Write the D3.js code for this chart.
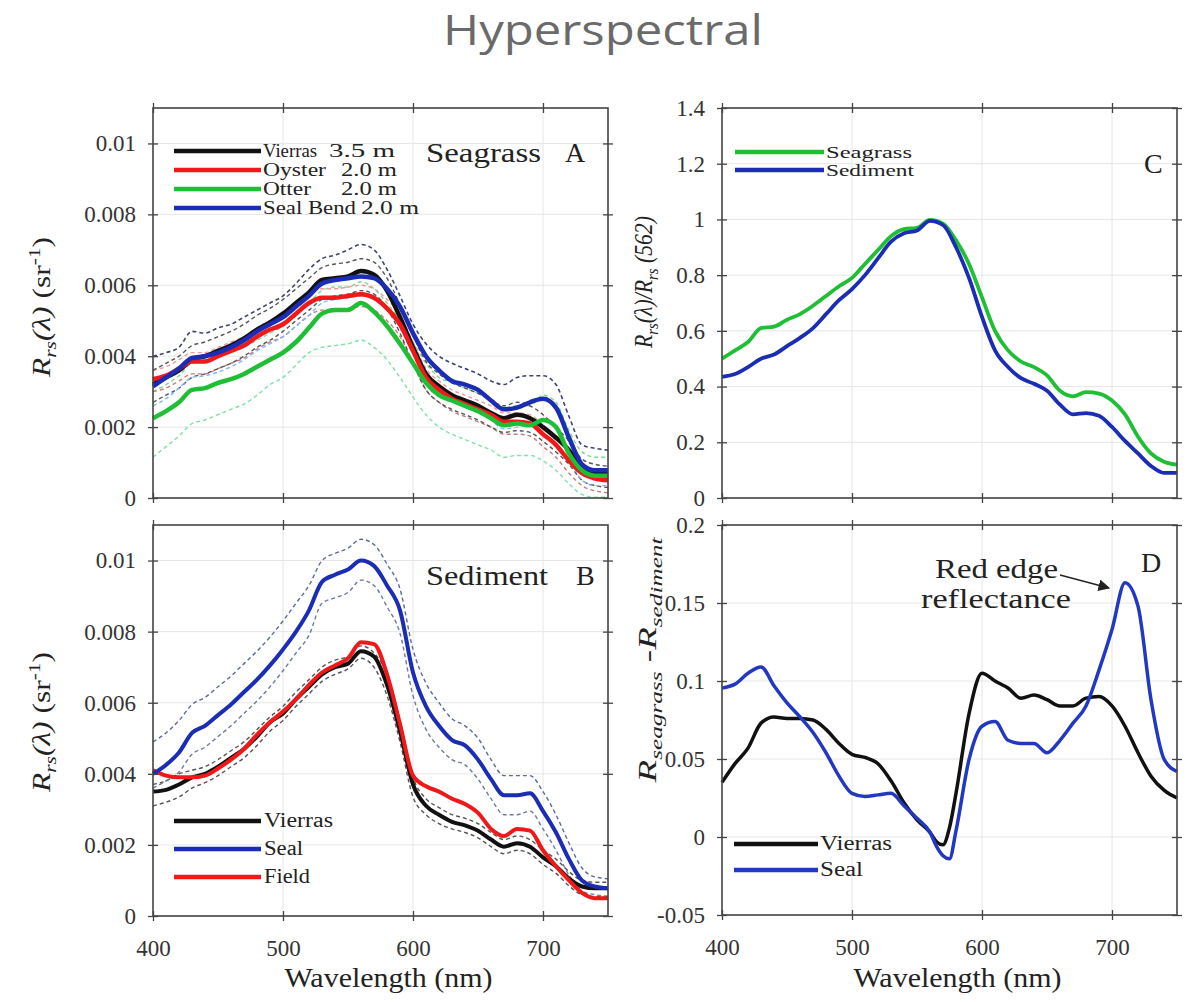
<!DOCTYPE html>
<html>
<head>
<meta charset="utf-8">
<script src="https://cdn.jsdelivr.net/npm/d3@7/dist/d3.min.js"></script>
<style>
  body { margin: 0; background: #fff; }
  svg { display: block; }
  .serif { font-family: "Liberation Serif", "Times New Roman", Times, "Nimbus Roman", serif; }
</style>
</head>
<body>
<svg id="chart" width="1199" height="1002"></svg>
<script>
// wavelength grid (nm)
const wl = [400,410,420,430,440,450,460,470,480,490,500,510,520,530,540,550,560,570,
            580,590,600,610,620,630,640,650,660,670,680,690,700,710,720,730,740,750];
// finer grid around the dip for panel D
const wlD = [400,410,420,430,440,450,460,470,480,490,500,510,520,530,540,550,560,565,570,575,
             580,590,600,610,620,630,640,650,660,670,680,690,700,710,720,730,740,750];

// Panel A - seagrass Rrs, units of 1e-3 sr^-1
const aVierras = [3.2,3.4,3.6,3.9,4.0,4.15,4.3,4.5,4.75,4.95,5.2,5.5,5.8,6.15,6.2,6.25,6.4,6.3,5.85,5.1,4.25,3.5,3.15,2.9,2.75,2.6,2.4,2.25,2.35,2.25,2.0,1.7,1.35,0.87,0.73,0.7];
const aOyster  = [3.35,3.45,3.65,3.85,3.85,4.0,4.15,4.3,4.55,4.75,4.9,5.2,5.5,5.65,5.65,5.7,5.75,5.65,5.35,4.9,4.15,3.4,3.05,2.8,2.65,2.5,2.35,2.15,2.15,2.1,1.8,1.5,1.05,0.7,0.55,0.5];
const aOtter   = [2.25,2.45,2.7,3.05,3.1,3.25,3.35,3.5,3.7,3.9,4.1,4.4,4.8,5.2,5.3,5.3,5.5,5.25,4.85,4.35,3.8,3.25,2.9,2.75,2.6,2.45,2.25,2.05,2.1,2.05,2.2,2.0,1.25,0.78,0.63,0.63];
const aSeal    = [3.15,3.4,3.65,3.95,4.0,4.1,4.25,4.45,4.7,4.9,5.1,5.4,5.7,6.05,6.15,6.2,6.25,6.2,5.9,5.4,4.65,4.0,3.6,3.3,3.2,3.05,2.75,2.5,2.55,2.7,2.8,2.55,1.7,0.95,0.78,0.78];
// +/- one std dev (dashed)
const aVierrasHi = [3.6,3.8,4.0,4.3,4.4,4.55,4.7,4.9,5.15,5.35,5.6,5.9,6.2,6.5,6.6,6.65,6.75,6.65,6.2,5.45,4.6,3.85,3.5,3.25,3.1,2.95,2.75,2.6,2.7,2.6,2.35,2.0,1.6,1.1,0.95,0.9];
const aVierrasLo = [2.7,2.9,3.1,3.4,3.5,3.65,3.8,4.0,4.25,4.45,4.7,5.0,5.3,5.6,5.7,5.75,5.85,5.75,5.35,4.65,3.8,3.05,2.7,2.5,2.35,2.2,2.0,1.85,1.9,1.85,1.6,1.3,0.95,0.5,0.35,0.3];
const aOysterHi  = [3.6,3.7,3.9,4.1,4.1,4.25,4.4,4.55,4.8,5.0,5.15,5.45,5.75,5.9,5.9,5.95,6.0,5.9,5.6,5.15,4.4,3.65,3.3,3.05,2.9,2.75,2.6,2.4,2.4,2.35,2.05,1.75,1.3,0.95,0.8,0.75];
const aOysterLo  = [3.0,3.1,3.3,3.5,3.5,3.65,3.8,3.95,4.2,4.4,4.55,4.85,5.15,5.3,5.3,5.35,5.4,5.3,5.0,4.55,3.8,3.05,2.7,2.45,2.3,2.15,2.0,1.8,1.8,1.75,1.45,1.15,0.7,0.35,0.2,0.15];
const aOtterHi   = [3.0,3.2,3.45,3.8,3.85,4.0,4.1,4.25,4.45,4.65,4.85,5.15,5.5,5.85,5.95,5.95,6.1,5.9,5.5,5.0,4.4,3.8,3.4,3.25,3.1,2.95,2.75,2.55,2.6,2.6,2.9,2.7,1.9,1.3,1.15,1.15];
const aOtterLo   = [1.15,1.45,1.75,2.1,2.2,2.35,2.5,2.65,2.9,3.2,3.4,3.75,4.1,4.25,4.3,4.35,4.45,4.25,3.9,3.4,2.85,2.35,2.0,1.8,1.65,1.5,1.35,1.15,1.2,1.2,1.05,0.78,0.4,0.1,0.02,0.02];
const aSealHi    = [4.0,4.1,4.25,4.7,4.65,4.8,4.9,5.1,5.3,5.5,5.7,6.05,6.45,6.75,6.85,7.0,7.15,7.0,6.45,5.7,4.9,4.35,4.0,3.8,3.65,3.5,3.3,3.2,3.4,3.45,3.45,3.2,2.3,1.5,1.4,1.35];
const aSealLo    = [2.6,2.8,3.1,3.4,3.45,3.55,3.7,3.9,4.15,4.35,4.55,4.85,5.15,5.5,5.6,5.65,5.7,5.6,5.3,4.8,4.05,3.4,3.0,2.75,2.65,2.5,2.2,1.95,2.0,2.1,2.2,2.0,1.2,0.5,0.35,0.35];

// Panel B - sediment Rrs, units of 1e-3 sr^-1
const bVierras = [3.5,3.55,3.7,3.9,4.0,4.2,4.45,4.7,5.05,5.45,5.7,6.1,6.45,6.8,7.0,7.1,7.45,7.3,6.5,5.2,3.7,3.1,2.85,2.65,2.55,2.4,2.15,1.95,2.05,1.95,1.65,1.4,1.05,0.83,0.78,0.78];
const bSeal    = [4.0,4.25,4.6,5.15,5.35,5.65,5.95,6.3,6.65,7.05,7.5,8.0,8.6,9.4,9.6,9.75,10.0,9.85,9.3,8.6,6.85,5.9,5.35,4.95,4.8,4.4,3.85,3.4,3.4,3.45,2.95,2.35,1.6,1.0,0.83,0.78];
const bField   = [4.1,3.95,3.9,3.9,3.95,4.15,4.4,4.7,5.1,5.45,5.75,6.1,6.5,6.85,7.05,7.25,7.7,7.65,6.8,5.4,3.95,3.65,3.5,3.3,3.15,2.9,2.45,2.25,2.45,2.4,1.85,1.4,1.0,0.65,0.5,0.5];
const bSealHi    = [4.9,5.15,5.5,5.95,6.15,6.45,6.75,7.1,7.45,7.85,8.3,8.8,9.3,10.0,10.2,10.35,10.6,10.45,9.9,9.2,7.5,6.55,6.0,5.55,5.35,5.0,4.4,3.95,3.95,3.95,3.5,2.85,2.05,1.35,1.1,1.05];
const bSealLo    = [3.6,3.8,4.05,4.55,4.75,5.05,5.35,5.7,6.05,6.45,6.9,7.4,7.9,8.8,8.95,9.1,9.45,9.3,8.7,7.95,6.2,5.25,4.75,4.4,4.25,3.85,3.3,2.85,2.85,2.95,2.45,1.85,1.15,0.7,0.6,0.55];
const bVierrasHi = [3.7,3.8,4.0,4.1,4.2,4.4,4.65,4.9,5.25,5.6,5.9,6.3,6.65,7.0,7.2,7.3,7.6,7.4,6.8,5.5,3.9,3.3,3.05,2.85,2.75,2.6,2.35,2.15,2.25,2.15,1.85,1.6,1.25,1.0,0.95,0.95];
const bVierrasLo = [3.1,3.2,3.35,3.6,3.75,3.95,4.2,4.45,4.8,5.2,5.5,5.9,6.25,6.6,6.8,6.95,7.25,7.0,6.2,4.9,3.35,2.85,2.6,2.45,2.35,2.2,1.95,1.75,1.85,1.75,1.45,1.2,0.85,0.6,0.55,0.55];

// Panel C - normalised Rrs(l)/Rrs(562)
const cSeagrass = [0.50,0.53,0.56,0.61,0.615,0.64,0.66,0.69,0.725,0.76,0.79,0.84,0.89,0.94,0.965,0.97,0.998,0.985,0.925,0.84,0.72,0.60,0.53,0.49,0.47,0.44,0.385,0.365,0.38,0.375,0.35,0.30,0.22,0.16,0.13,0.12];
const cSediment = [0.435,0.445,0.47,0.50,0.515,0.545,0.575,0.61,0.66,0.71,0.75,0.80,0.86,0.92,0.95,0.96,0.995,0.98,0.90,0.79,0.65,0.53,0.47,0.43,0.41,0.385,0.335,0.30,0.305,0.295,0.255,0.205,0.16,0.115,0.09,0.09];

// Panel D - seagrass minus sediment (on wlD)
const dVierras = [0.035,0.047,0.057,0.073,0.077,0.076,0.076,0.075,0.069,0.060,0.053,0.051,0.047,0.036,0.022,0.011,0.003,-0.003,-0.005,0.006,
                  0.028,0.079,0.105,0.100,0.0955,0.089,0.091,0.088,0.084,0.084,0.089,0.090,0.084,0.071,0.054,0.039,0.030,0.025];
const dSeal    = [0.0955,0.098,0.105,0.109,0.097,0.086,0.077,0.067,0.054,0.039,0.028,0.026,0.027,0.028,0.020,0.012,0.003,-0.006,-0.012,-0.014,
                  0.004,0.0496,0.071,0.074,0.062,0.060,0.060,0.054,0.062,0.073,0.084,0.107,0.133,0.163,0.148,0.088,0.050,0.042];

const xTicks = [400, 500, 600, 700];
const rrsTicks = [0, 0.002, 0.004, 0.006, 0.008, 0.01];
const normTicks = [0, 0.2, 0.4, 0.6, 0.8, 1, 1.2, 1.4];
const diffTicks = [-0.05, 0, 0.05, 0.1, 0.15, 0.2];

const svg = d3.select("#chart");

function drawPanel(p) {
    const x = d3.scaleLinear().domain([400, 750]).range([p.left, p.right]);
    const y = d3.scaleLinear().domain(p.yDomain).range([p.bottom, p.top]);
    const g = svg.append("g");

    // faint grid
    g.selectAll(".gx").data(xTicks.slice(1)).enter().append("line")
        .attr("x1", d => x(d)).attr("x2", d => x(d))
        .attr("y1", p.top).attr("y2", p.bottom)
        .attr("stroke", "#e6e6e6").attr("stroke-width", 1);
    g.selectAll(".gy").data(p.yTicks).enter().append("line")
        .attr("x1", p.left).attr("x2", p.right)
        .attr("y1", d => y(d)).attr("y2", d => y(d))
        .attr("stroke", "#e6e6e6").attr("stroke-width", 1);

    const line = d3.line()
        .x((d, i) => x(p.wave[i]))
        .y(d => y(d * p.unit))
        .curve(d3.curveMonotoneX);

    p.series.forEach(s => {
        g.append("path")
            .attr("d", line(s.values))
            .attr("fill", "none")
            .attr("stroke", s.color)
            .attr("stroke-width", s.width)
            .attr("stroke-dasharray", s.dash || null)
            .attr("stroke-linejoin", "round");
    });

    // axes, ticks cross the frame
    const left = g.append("g").attr("transform", `translate(${p.left},0)`)
        .call(d3.axisLeft(y).tickValues(p.yTicks).tickSize(5).tickPadding(12).tickFormat(p.fmt));
    left.selectAll(".tick line").attr("x1", 5);
    const right = g.append("g").attr("transform", `translate(${p.right},0)`)
        .call(d3.axisRight(y).tickValues(p.yTicks).tickSize(5).tickFormat(""));
    right.selectAll(".tick line").attr("x1", -5);
    const bottom = g.append("g").attr("transform", `translate(0,${p.bottom})`)
        .call(d3.axisBottom(x).tickValues(xTicks).tickSize(5).tickPadding(19)
            .tickFormat(p.showX ? d3.format("d") : ""));
    bottom.selectAll(".tick line").attr("y1", -5);
    const top = g.append("g").attr("transform", `translate(0,${p.top})`)
        .call(d3.axisTop(x).tickValues(xTicks).tickSize(5).tickFormat(""));
    top.selectAll(".tick line").attr("y1", 5);

    [left, right, bottom, top].forEach(a => {
        a.select(".domain").remove();
        a.attr("font-family", null).attr("font-size", null);
        a.selectAll(".tick line").attr("stroke", "#444").attr("stroke-width", 1.3);
        a.selectAll("text")
            .attr("class", "serif")
            .style("font-size", "23px")
            .attr("fill", "#333");
    });

    g.append("rect")
        .attr("x", p.left).attr("y", p.top)
        .attr("width", p.right - p.left).attr("height", p.bottom - p.top)
        .attr("fill", "none").attr("stroke", "#444").attr("stroke-width", 1.6);

    if (p.showX) {
        g.append("text")
            .attr("class", "serif")
            .attr("x", (p.left + p.right) / 2 + 8).attr("y", 987)
            .attr("text-anchor", "middle")
            .style("font-size", "27px").attr("fill", "#222")
            .attr("textLength", 208).attr("lengthAdjust", "spacingAndGlyphs")
            .text("Wavelength (nm)");
    }
    return g;
}

const rrsFmt = d => d === 0 ? "0" : String(+d.toFixed(3));
const twoFmt = d => d === 0 ? "0" : String(+d.toFixed(2));

const BLACK = "#111", RED = "#f01818", GREEN = "#1fbf35", BLUE = "#1b2db5";

// Panel A
drawPanel({
    left: 153, right: 608, top: 108, bottom: 498,
    yDomain: [0, 0.011], yTicks: rrsTicks, fmt: rrsFmt, unit: 1e-3, wave: wl, showX: false,
    series: [
        { values: aOtterLo,   color: "#7fe3a6", width: 1.4, dash: "4,3" },
        { values: aOtterHi,   color: "#7fd98f", width: 1.4, dash: "4,3" },
        { values: aOysterHi,  color: "#f09a9a", width: 1.4, dash: "4,3" },
        { values: aOysterLo,  color: "#c77b7b", width: 1.4, dash: "4,3" },
        { values: aVierrasHi, color: "#555", width: 1.4, dash: "4,3" },
        { values: aVierrasLo, color: "#555", width: 1.4, dash: "4,3" },
        { values: aSealLo,    color: "#7fb7ff", width: 1.4, dash: "4,3" },
        { values: aSealHi,    color: "#3c4470", width: 1.6, dash: "4,3" },
        { values: aVierras, color: BLACK, width: 4.5 },
        { values: aOyster,  color: RED,   width: 4.5 },
        { values: aOtter,   color: GREEN, width: 4.5 },
        { values: aSeal,    color: BLUE,  width: 4.5 }
    ]
});

// Panel B
drawPanel({
    left: 153, right: 608, top: 525, bottom: 916,
    yDomain: [0, 0.011], yTicks: rrsTicks, fmt: rrsFmt, unit: 1e-3, wave: wl, showX: true,
    series: [
        { values: bVierrasHi, color: "#555", width: 1.4, dash: "4,3" },
        { values: bVierrasLo, color: "#555", width: 1.4, dash: "4,3" },
        { values: bSealHi,    color: "#5a6a9a", width: 1.4, dash: "4,3" },
        { values: bSealLo,    color: "#6a7aa0", width: 1.4, dash: "4,3" },
        { values: bVierras, color: BLACK, width: 4 },
        { values: bField,   color: RED,   width: 4 },
        { values: bSeal,    color: BLUE,  width: 4 }
    ]
});

// Panel C
drawPanel({
    left: 722, right: 1177, top: 108, bottom: 498,
    yDomain: [0, 1.4], yTicks: normTicks, fmt: twoFmt, unit: 1, wave: wl, showX: false,
    series: [
        { values: cSeagrass, color: GREEN, width: 3.8 },
        { values: cSediment, color: BLUE,  width: 3.8 }
    ]
});

// Panel D
drawPanel({
    left: 722, right: 1177, top: 525, bottom: 915,
    yDomain: [-0.05, 0.2], yTicks: diffTicks, fmt: twoFmt, unit: 1, wave: wlD, showX: true,
    series: [
        { values: dVierras, color: BLACK, width: 3.5 },
        { values: dSeal,    color: "#2238c0", width: 3.5 }
    ]
});

// stretches a text to a given width
function fitText(sel, len) {
    if (len) sel.attr("textLength", len).attr("lengthAdjust", "spacingAndGlyphs");
    return sel;
}

// legends
function legend(x0, x1, size, items) {
    items.forEach(it => {
        svg.append("line")
            .attr("x1", x0).attr("x2", x1).attr("y1", it.y).attr("y2", it.y)
            .attr("stroke", it.color).attr("stroke-width", 4.5);
        it.parts.forEach(pt => {
            fitText(svg.append("text")
                .attr("class", "serif")
                .attr("x", pt.x).attr("y", it.y + 6)
                .style("font-size", size + "px").attr("fill", "#222")
                .text(pt.t), pt.len);
        });
    });
}
legend(174, 261, 18, [
    { y: 151, color: BLACK, parts: [{ x: 263, t: "Vierras", len: 54 }, { x: 329, t: "3.5 m", len: 66 }] },
    { y: 170, color: RED,   parts: [{ x: 263, t: "Oyster", len: 63 }, { x: 341, t: "2.0 m", len: 56 }] },
    { y: 189, color: GREEN, parts: [{ x: 263, t: "Otter", len: 48 },  { x: 341, t: "2.0 m", len: 56 }] },
    { y: 208, color: BLUE,  parts: [{ x: 263, t: "Seal Bend", len: 93 }, { x: 361, t: "2.0 m", len: 58 }] }
]);
legend(174, 261, 20, [
    { y: 821, color: BLACK, parts: [{ x: 264, t: "Vierras", len: 69 }] },
    { y: 849, color: BLUE,  parts: [{ x: 264, t: "Seal", len: 39 }] },
    { y: 877, color: RED,   parts: [{ x: 264, t: "Field", len: 46 }] }
]);
legend(735, 824, 17, [
    { y: 152, color: GREEN, parts: [{ x: 826, t: "Seagrass", len: 86 }] },
    { y: 170, color: BLUE,  parts: [{ x: 826, t: "Sediment", len: 88 }] }
]);
legend(734, 818, 20, [
    { y: 844, color: BLACK, parts: [{ x: 820, t: "Vierras", len: 72 }] },
    { y: 870, color: "#2238c0", parts: [{ x: 820, t: "Seal", len: 43 }] }
]);

// panel labels
function label(x, y, t, len) {
    fitText(svg.append("text")
        .attr("class", "serif")
        .attr("x", x).attr("y", y)
        .style("font-size", "28px").attr("fill", "#222")
        .text(t), len);
}
label(426, 162, "Seagrass", 115);
label(565, 162, "A");
label(426, 585, "Sediment", 122);
label(576, 585, "B");
label(1144, 173, "C");
label(1141, 572, "D");
label(935, 578, "Red edge", 123);
label(921, 608, "reflectance", 150);

// arrow to the red-edge peak
svg.append("defs").append("marker")
    .attr("id", "arr").attr("viewBox", "0 0 10 10").attr("refX", 9).attr("refY", 5)
    .attr("markerWidth", 9).attr("markerHeight", 9).attr("orient", "auto")
    .append("path").attr("d", "M0,0 L10,5 L0,10 Z").attr("fill", "#222");
svg.append("line")
    .attr("x1", 1060).attr("y1", 575).attr("x2", 1109).attr("y2", 588)
    .attr("stroke", "#222").attr("stroke-width", 1.3)
    .attr("marker-end", "url(#arr)");

// y-axis titles, stretched along the text to the measured length
function yTitle(cx, cy, parts, len) {
    const g = svg.append("g");
    const t = g.append("text")
        .attr("class", "serif")
        .attr("text-anchor", "middle")
        .style("font-size", "25px").attr("fill", "#222");
    parts.forEach(pt => {
        const s = t.append("tspan").text(pt.t);
        if (pt.italic) s.attr("font-style", "italic");
        if (pt.sub) s.style("font-size", "17px").attr("dy", 6);
        if (pt.sup) s.style("font-size", "17px").attr("dy", -10);
        if (pt.dy) s.attr("dy", pt.dy);
    });
    const w = t.node().getComputedTextLength();
    g.attr("transform", `translate(${cx},${cy}) rotate(-90) scale(${len / w},1)`);
}
const rrsTitle = [
    { t: "R", italic: true }, { t: "rs", italic: true, sub: true },
    { t: "(\u03bb)", italic: true, dy: -6 }, { t: " (sr" },
    { t: "-1", sup: true }, { t: ")", dy: 10 }
];
yTitle(50, 307, rrsTitle, 140);
yTitle(50, 722, rrsTitle, 140);
yTitle(652, 282, [
    { t: "R", italic: true }, { t: "rs", italic: true, sub: true },
    { t: "(\u03bb)/", italic: true, dy: -6 }, { t: "R", italic: true },
    { t: "rs", italic: true, sub: true }, { t: " (562)", italic: true, dy: -6 }
], 132);
yTitle(656, 660, [
    { t: "R", italic: true }, { t: "seagrass", italic: true, sub: true },
    { t: " -", dy: -6 }, { t: "R", italic: true },
    { t: "sediment", italic: true, sub: true }
], 245);

// title
svg.append("text")
    .attr("x", 603).attr("y", 45)
    .attr("text-anchor", "middle")
    .style("font-family", "'Open Sans', 'DejaVu Sans', sans-serif")
    .style("font-size", "42px").attr("fill", "#6a6a6a")
    .attr("textLength", 320).attr("lengthAdjust", "spacingAndGlyphs")
    .text("Hyperspectral");
</script>
</body>
</html>
